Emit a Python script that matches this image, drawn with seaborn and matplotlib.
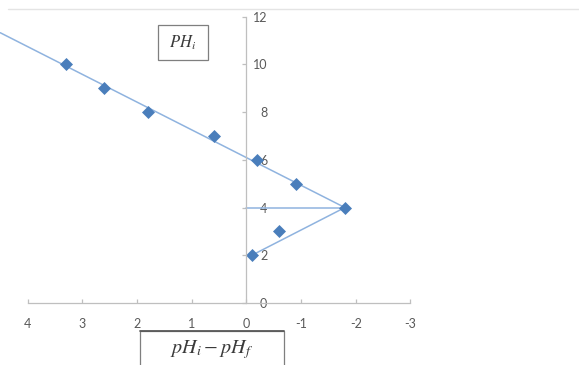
import numpy as np
import pandas as pd
import seaborn as sns
import matplotlib.pyplot as plt
from matplotlib.patches import Rectangle
from matplotlib.lines import Line2D

# pH shift (pH_i - pH_f) against initial pH
ph_shift = [3.3, 2.6, 1.8, 0.6, -0.2, -0.9, -1.8, -0.6, -0.1]
ph_initial = [10, 9, 8, 7, 6, 5, 4, 3, 2]

# guide lines
upper_x = [4.5, -1.8]
upper_y = [11.33, 4.0]
level_x = [0.0, -1.8]
level_y = [4.0, 4.0]
lower_x = [-0.1, -1.8]
lower_y = [2.0, 4.0]

x_ticks = [4, 3, 2, 1, 0, -1, -2, -3]
y_ticks = [0, 2, 4, 6, 8, 10, 12]

sns.set_theme(style="white")
plt.rcParams["font.family"] = ["Lato", "DejaVu Sans"]
plt.rcParams["mathtext.fontset"] = "stix"

W, H = 579, 365
fig = plt.figure(figsize=(W / 100, H / 100), dpi=100)
ax = fig.add_axes([0, 0, 1, 1])
ax.patch.set_alpha(0)

line_col = "#8fb3df"
mark_col = "#4a7ebb"
axis_col = "#bfbfbf"
text_col = "#595959"

for gx, gy in [(upper_x, upper_y), (level_x, level_y), (lower_x, lower_y)]:
    sns.lineplot(x=gx, y=gy, sort=False, estimator=None, color=line_col,
                 linewidth=1.1, ax=ax, zorder=2)

sns.scatterplot(x=ph_shift, y=ph_initial, marker="D", s=44, color=mark_col,
                edgecolor=mark_col, linewidth=0, ax=ax, zorder=2.3)

ax.set_xlim(4.503, -6.08)
ax.set_ylim(-2.60, 12.70)

for side in ["left", "top"]:
    ax.spines[side].set_visible(False)
ax.spines["right"].set_position(("data", 0))
ax.spines["bottom"].set_position(("data", 0))
ax.spines["right"].set_bounds(0, 12)
ax.spines["bottom"].set_bounds(-3, 4)
for side in ["right", "bottom"]:
    ax.spines[side].set_color(axis_col)
    ax.spines[side].set_linewidth(0.9)
    ax.spines[side].set_visible(True)

ax.yaxis.tick_right()
ax.xaxis.tick_bottom()
ax.set_xticks(x_ticks)
ax.set_yticks(y_ticks)
ax.set_xticklabels([str(t) for t in x_ticks])
ax.set_yticklabels([str(t) for t in y_ticks])
ax.tick_params(axis="y", direction="in", length=3, width=0.9, color=axis_col,
               pad=15, labelsize=9, labelcolor=text_col)
ax.tick_params(axis="x", direction="in", length=3, width=0.9, color=axis_col,
               pad=10.5, labelsize=9, labelcolor=text_col)
for lab in ax.get_yticklabels():
    lab.set_horizontalalignment("right")
ax.set_xlabel("")
ax.set_ylabel("")
ax.grid(False)

def fx(px):
    return px / W

def fy(py):
    return 1 - py / H

# thin frame line across the top
fig.add_artist(Line2D([fx(8), 1], [fy(9), fy(9)], color="#e4e4e4", linewidth=1))

# axis title boxes
fig.add_artist(Rectangle((fx(158), fy(60)), fx(208) - fx(158), fy(25) - fy(60),
                         facecolor="white", edgecolor="#7f7f7f", linewidth=0.9))
fig.text(fx(183), fy(43), r"$PH_i$", ha="center", va="center", fontsize=12,
         color="#3a3a3a")

fig.add_artist(Rectangle((fx(140), fy(375)), fx(284) - fx(140), fy(331) - fy(375),
                         facecolor="white", edgecolor="#7f7f7f", linewidth=0.9))
fig.add_artist(Line2D([fx(140), fx(284)], [fy(331), fy(331)], color="#595959",
                      linewidth=1.3))
fig.text(fx(212), fy(350), r"$pH_i - pH_f$", ha="center", va="center",
         fontsize=14.5, color="#3a3a3a")

fig.savefig("out.png", dpi=100)
